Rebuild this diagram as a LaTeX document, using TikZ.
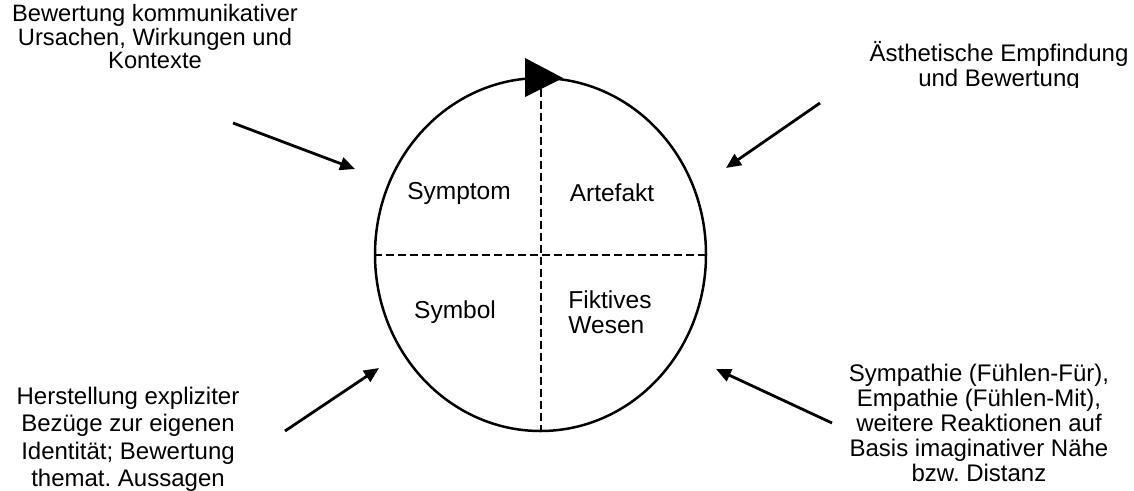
\documentclass[tikz,border=0pt]{standalone}
\usepackage{fontspec}
\setmainfont{Liberation Sans}
\usetikzlibrary{shapes.geometric,arrows.meta}
\begin{document}
\frenchspacing
\begin{tikzpicture}[x=1pt,y=-1pt,
  lbl/.style={align=center,font=\frenchspacing\fontsize{24}{25}\selectfont,inner sep=0pt},
  inlbl/.style={align=left,font=\fontsize{24.5}{25}\selectfont,inner sep=0pt},
  ring/.style={ellipse,draw,line width=2.5pt,minimum width=331pt,minimum height=353pt,inner sep=0pt},
  divider/.style={line width=2pt,dash pattern=on 8pt off 4pt},
  pointer/.style={line width=2.8pt,-{Triangle[length=15pt,width=13pt]}}]
\useasboundingbox (0,0) rectangle (1134,490);

% circle with quadrants
\node[ring] (c) at (540.5,254.5) {};
\draw[divider] (c.north) -- (c.south);
\draw[divider] (c.west) -- (c.east);
\fill (525,58) -- (563,78) -- (525,97) -- cycle;

% quadrant labels
\node[lbl,font=\fontsize{24.5}{25}\selectfont] (symptom) at (459,193) {Symptom};
\node[lbl,font=\fontsize{24.5}{25}\selectfont] (artefakt) at (612,193) {Artefakt};
\node[lbl,font=\fontsize{24.5}{25}\selectfont] (symbol) at (455,312) {Symbol};
\node[inlbl] (fiktiv) at (610,312.5) {Fiktives\\Wesen};

% outer labels
\node[lbl,font=\frenchspacing\fontsize{23.7}{23.5}\selectfont] (tl) at (155,37) {Bewertung kommunikativer\\Ursachen, Wirkungen und\\Kontexte};
\begin{scope}
  \clip (800,0) rectangle (1134,87);
  \node[lbl] (tr) at (999,66) {Ästhetische Empfindung\\und Bewertung};
\end{scope}
\node[lbl,font=\frenchspacing\fontsize{24}{27.5}\selectfont] (bl) at (128,439.5) {Herstellung expliziter\\Bezüge zur eigenen\\Identität; Bewertung\\themat. Aussagen};
\node[lbl] (br) at (979,423) {Sympathie (Fühlen-Für),\\Empathie (Fühlen-Mit),\\weitere Reaktionen auf\\Basis imaginativer Nähe\\bzw. Distanz};

% arrows
\coordinate (a1s) at (233,123); \coordinate (a1e) at (355,169);
\coordinate (a2s) at (820,103); \coordinate (a2e) at (726,168);
\coordinate (a3s) at (285,431); \coordinate (a3e) at (379,368);
\coordinate (a4s) at (832,423); \coordinate (a4e) at (716,369);
\draw[pointer] (a1s) -- (a1e);
\draw[pointer] (a2s) -- (a2e);
\draw[pointer] (a3s) -- (a3e);
\draw[pointer] (a4s) -- (a4e);
\end{tikzpicture}
\end{document}
